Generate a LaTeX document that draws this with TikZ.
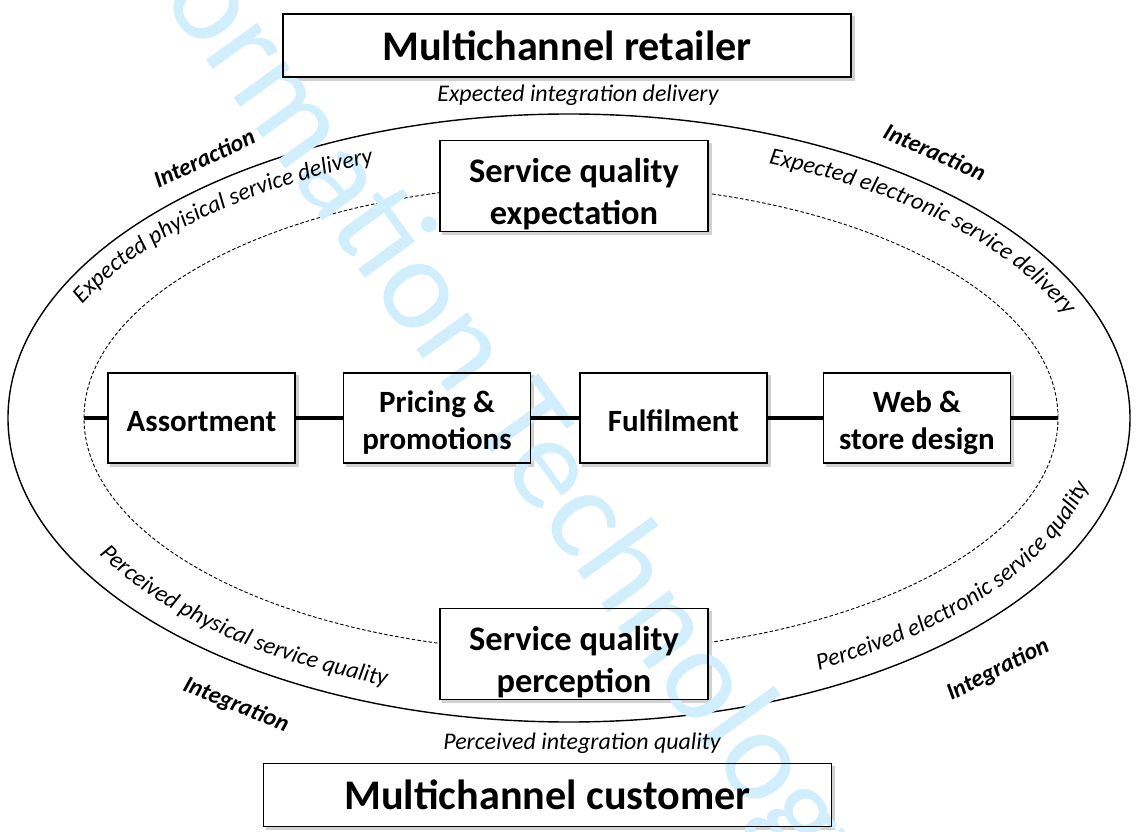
\documentclass[tikz,border=0pt]{standalone}
\usepackage{fontspec}
\setmainfont{Carlito}
\usetikzlibrary{positioning,decorations.text}
\definecolor{markcyan}{RGB}{208,238,251}
\pgfdeclarelayer{back}
\pgfdeclarelayer{mark}
\pgfsetlayers{back,mark,main}
\newcommand{\curvefont}{\fontsize{17}{20}\selectfont\itshape}
\newcommand{\lift}[1]{\rule{0pt}{#1}}

\begin{document}
\begin{tikzpicture}[
    x=0.025cm, y=0.025cm,
    node distance=1.2cm,
    titlebox/.style={rectangle, draw, line width=1pt, minimum width=14.2cm, minimum height=1.575cm, font=\fontsize{30}{36}\selectfont\bfseries},
    qualbox/.style={rectangle, draw, line width=1pt, inner sep=1pt, minimum width=6.7cm, minimum height=2.2cm, align=center, font=\fontsize{24.5}{30}\selectfont\bfseries},
    midbox/.style={rectangle, draw, line width=1pt, inner sep=1pt, minimum width=4.675cm, minimum height=2.25cm, align=center, font=\fontsize{22}{26}\selectfont\bfseries},
    flowlabel/.style={font=\fontsize{17}{20}\selectfont\itshape},
    sidelabel/.style={font=\fontsize{17}{20}\selectfont\bfseries\itshape},
    link/.style={line width=2.6pt},
    curvetext/.style={decorate, decoration={text along path, text align=left, text={#1}}}
]
\useasboundingbox (0,0) rectangle (1136,-832);

% boxes
\node[titlebox] (retailer) at (567,-45.5) {Multichannel retailer};
\node[titlebox] (customer) at (547.5,-795) {Multichannel customer};
\node[qualbox] (expect) at (574,-186) {\lift{29pt}Service quality\\expectation};
\node[qualbox] (percept) at (574,-654) {\lift{29pt}Service quality\\perception};
\node[midbox] (assort) at (201.5,-418) {\lift{19.5pt}Assortment};
\node[midbox, right=1.175cm of assort] (pricing) {\lift{22pt}Pricing \&\\promotions};
\node[midbox, right=1.2cm of pricing] (fulfil) {\lift{19.5pt}Fulfilment};
\node[midbox, right=1.375cm of fulfil] (webdesign) {\lift{22pt}Web \&\\store design};

% chain across the inner ellipse
\coordinate (chainL) at (84,-418);
\coordinate (chainR) at (1058,-418);
\draw[link] (chainL) -- (assort) -- (pricing) -- (fulfil) -- (webdesign) -- (chainR);

% labels
\node[flowlabel] (expint) at (578,-95) {Expected integration delivery};
\node[flowlabel] (percint) at (582,-743) {Perceived integration quality};
\node[sidelabel, rotate=25] (interL) at (204,-158) {Interaction};
\node[sidelabel, rotate=-24] (interR) at (935,-152) {Interaction};
\node[sidelabel, rotate=-22] (integL) at (236,-705) {Integration};
\node[sidelabel, rotate=27] (integR) at (998,-670) {Integration};

% texts along the ring
\path[curvetext={|\curvefont|Expected phyisical service delivery}]
    (569,-418) ++(155.5:535 and 274) arc[start angle=155.5, end angle=50, x radius=535, y radius=274];
\path[curvetext={|\curvefont|Expected electronic service delivery}]
    (569,-418) ++(68.1:535 and 274) arc[start angle=68.1, end angle=-20, x radius=535, y radius=274];
\path[curvetext={|\curvefont|Perceived physical service quality}]
    (569,-418) ++(208.5:535 and 285) arc[start angle=208.5, end angle=300, x radius=535, y radius=285];
\path[curvetext={|\curvefont|Perceived electronic service quality}]
    (569,-418) ++(-62.2:535 and 285) arc[start angle=-62.2, end angle=30, x radius=535, y radius=285];

\begin{pgfonlayer}{back}
  \draw[line width=1pt] (569,-418) ellipse [x radius=561, y radius=304];
  \draw[dash pattern=on 2.5pt off 1.5pt, line width=0.65pt] (571,-418) ellipse [x radius=487, y radius=234];
  \foreach \b in {retailer,customer,expect,percept,assort,pricing,fulfil,webdesign}{
    \fill[black!18] ([shift={(3,-3)}]\b.south west) rectangle ([shift={(3,-3)}]\b.north east);
    \fill[white] (\b.south west) rectangle (\b.north east);
  }
\end{pgfonlayer}

\begin{pgfonlayer}{mark}
  \node[text=markcyan, rotate=-54, inner sep=0, font=\fontsize{94}{94}\selectfont] (watermark) at (480,-378) {Information Technology};
\end{pgfonlayer}

\end{tikzpicture}
\end{document}
